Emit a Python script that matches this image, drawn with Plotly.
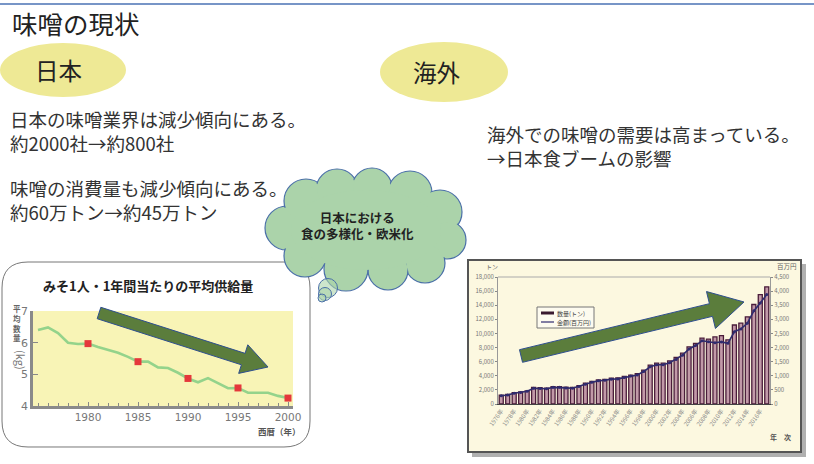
import math
import plotly.graph_objects as go

W, H = 814, 464
FONT = "Noto Sans CJK JP"

# --- みそ1人・1年間当たりの平均供給量 (kg) ---
supply_years = list(range(1975, 2001))
supply_kg = [6.40, 6.48, 6.30, 6.00, 5.96, 5.97, 5.86, 5.76, 5.68, 5.55,
             5.40, 5.40, 5.22, 5.20, 5.05, 4.87, 4.75, 4.88, 4.72, 4.56,
             4.57, 4.42, 4.42, 4.42, 4.32, 4.25]
marked_years = [1980, 1985, 1990, 1995, 2000]
supply_ticks = [4, 5, 6, 7]

# --- みその輸出 数量(トン)・金額(百万円) ---
export_years = list(range(1976, 2018))
export_tons = [1250, 1350, 1600, 1700, 1850, 2350, 2300, 2250, 2450, 2450,
               2400, 2350, 2600, 2950, 3200, 3400, 3500, 3650, 3700, 3900,
               4100, 4300, 4800, 5500, 5800, 5800, 6100, 6600, 7200, 8100,
               8600, 9350, 9200, 9500, 9700, 9100, 11200, 11450, 12350, 14100,
               15500, 16600]
export_value = [290, 320, 380, 410, 450, 560, 550, 540, 590, 590,
                570, 560, 620, 700, 770, 820, 840, 880, 890, 940,
                990, 1030, 1150, 1320, 1390, 1390, 1460, 1580, 1730, 1950,
                2070, 2240, 2210, 2170, 2200, 2150, 2560, 2660, 2860, 3300,
                3580, 3880]
tons_ticks = list(range(0, 18001, 2000))
value_ticks = list(range(0, 4501, 500))


def px(x):
    return x / W


def py(y):
    return 1 - y / H


def pt(x, y):
    return f"{px(x):.5f},{py(y):.5f}"


def rounded_rect(x0, y0, x1, y1, r):
    return (f"M {pt(x0 + r, y0)} L {pt(x1 - r, y0)} Q {pt(x1, y0)} {pt(x1, y0 + r)} "
            f"L {pt(x1, y1 - r)} Q {pt(x1, y1)} {pt(x1 - r, y1)} "
            f"L {pt(x0 + r, y1)} Q {pt(x0, y1)} {pt(x0, y1 - r)} "
            f"L {pt(x0, y0 + r)} Q {pt(x0, y0)} {pt(x0 + r, y0)} Z")


def arrow_path(tail, tip, shaft_w, head_w, head_len):
    dx, dy = tip[0] - tail[0], tip[1] - tail[1]
    L = math.hypot(dx, dy)
    ux, uy = dx / L, dy / L
    nx, ny = -uy, ux
    bx, by = tip[0] - ux * head_len, tip[1] - uy * head_len
    pts = [
        (tail[0] + nx * shaft_w / 2, tail[1] + ny * shaft_w / 2),
        (bx + nx * shaft_w / 2, by + ny * shaft_w / 2),
        (bx + nx * head_w / 2, by + ny * head_w / 2),
        tip,
        (bx - nx * head_w / 2, by - ny * head_w / 2),
        (bx - nx * shaft_w / 2, by - ny * shaft_w / 2),
        (tail[0] - nx * shaft_w / 2, tail[1] - ny * shaft_w / 2),
    ]
    return "M " + " L ".join(pt(x, y) for x, y in pts) + " Z"


def ellipse(cx, cy, rx, ry, **kw):
    return dict(type="circle", xref="paper", yref="paper",
                x0=px(cx - rx), x1=px(cx + rx), y0=py(cy + ry), y1=py(cy - ry), **kw)


fig = go.Figure()

# left line chart
fig.add_trace(go.Scatter(
    x=supply_years, y=supply_kg, mode="lines",
    line=dict(color="#94d38b", width=2.6), xaxis="x", yaxis="y",
    hoverinfo="skip"))
fig.add_trace(go.Scatter(
    x=marked_years, y=[supply_kg[supply_years.index(y)] for y in marked_years],
    mode="markers", marker=dict(color="#e5383b", size=7, symbol="square"),
    xaxis="x", yaxis="y"))

# right bar + line chart
fig.add_trace(go.Bar(
    x=export_years, y=export_tons, width=0.62,
    marker=dict(color="#c299a8", line=dict(color="#4a1d3a", width=1.3)),
    xaxis="x2", yaxis="y2"))
fig.add_trace(go.Scatter(
    x=export_years, y=export_value, mode="lines+markers",
    line=dict(color="#2f2b6e", width=1.6),
    marker=dict(color="#2f2b6e", size=3),
    xaxis="x2", yaxis="y3"))

shapes = []

# top rule
shapes.append(dict(type="line", xref="paper", yref="paper",
                   x0=0, x1=1, y0=py(4), y1=py(4),
                   line=dict(color="#4a72b5", width=1.5)))

# header ellipses
shapes.append(ellipse(63, 70, 63, 27, fillcolor="#eee995", line=dict(width=0)))
shapes.append(ellipse(444, 72, 64, 30, fillcolor="#eee995", line=dict(width=0)))

# left chart frame
shapes.append(dict(type="path", xref="paper", yref="paper",
                   path=rounded_rect(2, 262, 310, 447, 26),
                   fillcolor="white", line=dict(color="#777", width=1), layer="below"))
shapes.append(dict(type="rect", xref="x domain", yref="y domain",
                   x0=0, x1=1, y0=0, y1=1, fillcolor="#f8f4b6",
                   line=dict(width=0), layer="below"))

# right chart frame with shadow
shapes.append(dict(type="rect", xref="paper", yref="paper",
                   x0=px(472), x1=px(806), y0=py(457), y1=py(264),
                   fillcolor="#b0b0b0", line=dict(width=0), layer="below"))
shapes.append(dict(type="rect", xref="paper", yref="paper",
                   x0=px(468), x1=px(801), y0=py(452), y1=py(260),
                   fillcolor="#fcf8e0", line=dict(color="#555", width=2), layer="below"))

# cloud: outline circles, then fill-only circles to hide inner seams
lobes = [(287, 228, 22), (306, 201, 22), (337, 190, 21), (372, 188, 20),
         (410, 193, 22), (440, 212, 22), (447, 240, 19), (425, 263, 20),
         (388, 270, 20), (346, 269, 22), (305, 256, 21)]
for cx, cy, r in lobes:
    shapes.append(ellipse(cx, cy, r, r, fillcolor="#abd3aa",
                          line=dict(color="#4a6fa8", width=1.2)))
for cx, cy, r in lobes:
    shapes.append(ellipse(cx, cy, r - 1.4, r - 1.4, fillcolor="#abd3aa",
                          line=dict(width=0)))
shapes.append(ellipse(366, 230, 75, 40, fillcolor="#abd3aa", line=dict(width=0)))
for cx, cy, r in [(328, 288, 9.5), (325, 294, 6.5), (322, 298, 4)]:
    shapes.append(ellipse(cx, cy, r, r, fillcolor="rgba(171,211,170,0.6)",
                          line=dict(color="#4a6fa8", width=1)))

# trend arrows
shapes.append(dict(type="path", xref="paper", yref="paper",
                   path=arrow_path((99, 313), (268, 367), 12, 30, 26),
                   fillcolor="#5b7d3c", line=dict(color="#2f4f8f", width=1)))
shapes.append(dict(type="path", xref="paper", yref="paper",
                   path=arrow_path((521, 356), (744, 302), 13, 38, 34),
                   fillcolor="#5b7d3c", line=dict(color="#2f4f8f", width=1)))

# legend of the export chart
shapes.append(dict(type="rect", xref="paper", yref="paper",
                   x0=px(537), x1=px(594), y0=py(328), y1=py(307),
                   fillcolor="#fdfbef", line=dict(color="#777", width=1)))
shapes.append(dict(type="line", xref="paper", yref="paper",
                   x0=px(541), x1=px(554), y0=py(313), y1=py(313),
                   line=dict(color="#3a1a30", width=3)))
shapes.append(dict(type="line", xref="paper", yref="paper",
                   x0=px(541), x1=px(554), y0=py(322), y1=py(322),
                   line=dict(color="#2f2b6e", width=1.2)))

annotations = []


def text(x, y, s, size, color="#333", xanchor="left", bold=False, align=None, **kw):
    if bold:
        s = f"<b>{s}</b>"
    annotations.append(dict(xref="paper", yref="paper", x=px(x), y=py(y), text=s,
                            showarrow=False, xanchor=xanchor, yanchor="middle",
                            borderpad=0, align=align or xanchor,
                            font=dict(family=FONT, size=size, color=color), **kw))


text(11, 22, "味噌の現状", 25.5, "#222")
text(58, 70, "日本", 23.5, "#222", xanchor="center")
text(437, 72, "海外", 23.5, "#222", xanchor="center")
text(9, 130.5, "日本の味噌業界は減少傾向にある。<br>約2000社→約800社", 18.5)
text(9, 199.5, "味噌の消費量も減少傾向にある。<br>約60万トン→約45万トン", 18.5)
text(486, 146, "海外での味噌の需要は高まっている。<br>→日本食ブームの影響", 18.5)
text(357, 225.5, "<b>日本における<br>食の多様化・欧米化</b>", 12.5, "#222", xanchor="center")
text(148, 285, "みそ1人・1年間当たりの平均供給量", 13, "#222", xanchor="center", bold=True)
text(279, 431, "西暦（年）", 8.5, "#555", xanchor="center", bold=True)
annotations.append(dict(xref="paper", yref="paper", x=px(12), y=py(323),
                        text="<b>平<br>均<br>数<br>量</b>", showarrow=False,
                        font=dict(family=FONT, size=7.5, color="#666"),
                        align="center", yanchor="middle", borderpad=0))
annotations.append(dict(xref="paper", yref="paper", x=px(12), y=py(360),
                        text="(kg)", showarrow=False, textangle=90,
                        font=dict(family=FONT, size=11, color="#777"),
                        yanchor="middle", borderpad=0))
text(492, 266, "トン", 6, "#666", xanchor="center")
text(787, 266, "百万円", 6.5, "#666", xanchor="center")
text(780, 437, "年　次", 7, "#555", xanchor="center", bold=True)
text(556, 313, "数量(トン)", 6, "#444")
text(556, 322, "金額(百万円)", 6, "#444")

fig.update_layout(
    width=W, height=H, margin=dict(l=0, r=0, t=0, b=0, autoexpand=False),
    paper_bgcolor="white", plot_bgcolor="rgba(0,0,0,0)",
    showlegend=False, bargap=0.3,
    font=dict(family=FONT),
    shapes=shapes, annotations=annotations,
    xaxis=dict(domain=[px(33), px(293)], anchor="y", range=[1974.5, 2000.5],
               automargin=False,
               tickvals=marked_years, ticktext=[str(y) for y in marked_years],
               ticks="inside", ticklen=4, tickcolor="#888",
               minor=dict(dtick=1, tick0=1975, ticks="inside", ticklen=3, tickcolor="#888"),
               showline=True, linecolor="#8a8a8a", linewidth=2.5, showgrid=False,
               zeroline=False, tickfont=dict(family="DejaVu Sans", size=10.5, color="#777")),
    yaxis=dict(domain=[py(406), py(311)], anchor="x", range=[4, 7],
               automargin=False,
               tickvals=supply_ticks, ticks="inside", ticklen=5, tickcolor="#888",
               showline=True, linecolor="#8a8a8a", linewidth=2.5, showgrid=False,
               zeroline=False, tickfont=dict(family="DejaVu Sans", size=11, color="#777")),
    xaxis2=dict(domain=[px(498), px(770)], anchor="y2", range=[1975.5, 2017.5],
                automargin=False,
                tickvals=export_years[::2], ticktext=[f"{y}年" for y in export_years[::2]],
                tickangle=-55, tickfont=dict(size=6, color="#888"),
                showline=True, linecolor="#444", linewidth=1.2, mirror=False,
                showgrid=False, zeroline=False, ticks=""),
    yaxis2=dict(domain=[py(404), py(277)], anchor="x2", range=[0, 18000],
                automargin=False,
                tickvals=tons_ticks, tickformat=",", tickfont=dict(size=6, color="#777"),
                ticks="outside", ticklen=2, tickcolor="#888",
                showline=True, linecolor="#999", linewidth=1, showgrid=False, zeroline=False),
    yaxis3=dict(overlaying="y2", anchor="x2", side="right", range=[0, 4500],
                automargin=False,
                tickvals=value_ticks, tickformat=",", tickfont=dict(size=6, color="#777"),
                ticks="outside", ticklen=2, tickcolor="#888",
                showline=True, linecolor="#999", linewidth=1, showgrid=False, zeroline=False),
)

# top border of the export plot area
fig.add_shape(type="line", xref="x2 domain", yref="y2 domain", x0=0, x1=1, y0=1, y1=1,
              line=dict(color="#aaa", width=1.2), layer="below")

fig.write_html("out.html")
